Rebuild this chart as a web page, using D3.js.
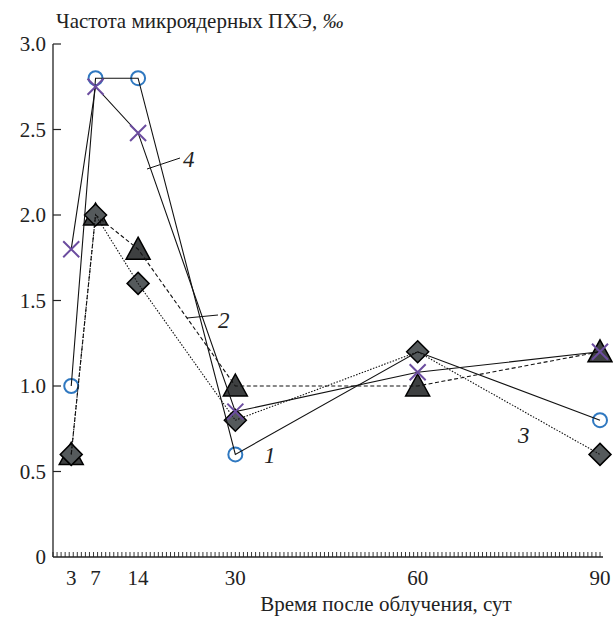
<!DOCTYPE html>
<html><head><meta charset="utf-8">
<script src="https://cdn.jsdelivr.net/npm/d3@7"></script>
<style>
body{margin:0;background:#fff}
text, tspan { font-family: "Liberation Serif", Tinos, "Times New Roman", serif !important; }
</style>
</head><body>
<script>
const days = [3, 7, 14, 30, 60, 90];
const series1 = [1.0, 2.8, 2.8, 0.6, 1.2, 0.8];    // circles, solid
const series2 = [0.6, 2.0, 1.8, 1.0, 1.0, 1.2];    // triangles, dashed
const series3 = [0.6, 2.0, 1.6, 0.8, 1.2, 0.6];    // diamonds, dotted
const series4 = [1.8, 2.75, 2.48, 0.85, 1.08, 1.2]; // crosses, solid
const yTicks = [0, 0.5, 1.0, 1.5, 2.0, 2.5, 3.0];
const xTickLabels = [3, 7, 14, 30, 60, 90];
const title = "Частота микроядерных ПХЭ, ";
const xTitle = "Время после облучения, сут";

const FONT = '"Liberation Serif", Tinos, "Times New Roman", serif';
const W = 613, H = 617;
const svg = d3.select("body").append("svg").attr("width", W).attr("height", H)
  .style("font-family", FONT);

const x = d3.scaleLinear().domain([0, 90]).range([53, 600]);
const y = d3.scaleLinear().domain([0, 3]).range([557, 44]);

const txt = (sel) => sel.append("text").style("font-family", FONT).attr("fill", "#222");

// axes
const g = svg.append("g");
g.append("line").attr("x1", 53).attr("x2", 53).attr("y1", y(3)).attr("y2", y(0)).attr("stroke", "#222").attr("stroke-width", 1.3);
g.append("line").attr("x1", 53).attr("x2", 603).attr("y1", y(0)).attr("y2", y(0)).attr("stroke", "#222").attr("stroke-width", 1.3);

yTicks.forEach(t => {
  if (t > 0) g.append("line").attr("x1", 53).attr("x2", 61).attr("y1", y(t)).attr("y2", y(t)).attr("stroke", "#222").attr("stroke-width", 1.2);
  txt(g).attr("x", 46).attr("y", y(t) + 7).attr("text-anchor", "end")
    .style("font-size", "21px").text(t === 0 ? "0" : t.toFixed(1));
});

// minor ticks on x axis
const minor = d3.range(0, 90.001, 2 / 3);
g.selectAll(".mt").data(minor).enter().append("line")
  .attr("x1", d => x(d)).attr("x2", d => x(d))
  .attr("y1", y(0)).attr("y2", y(0) - 5)
  .attr("stroke", "#222").attr("stroke-width", 0.9);

xTickLabels.forEach(t => {
  txt(g).attr("x", x(t)).attr("y", 585).attr("text-anchor", "middle")
    .style("font-size", "21px").text(t);
});

txt(svg).attr("x", 386).attr("y", 611).attr("text-anchor", "middle")
  .style("font-size", "21px").text(xTitle);

const tt = txt(svg).attr("x", 56).attr("y", 28).style("font-size", "21px");
tt.append("tspan").text(title);
tt.append("tspan").style("font-style", "italic").text("‰");

const pts = arr => arr.map((v, i) => [x(days[i]), y(v)]);

// circles
svg.selectAll(".c").data(pts(series1)).enter().append("circle")
  .attr("cx", d => d[0]).attr("cy", d => d[1]).attr("r", 7)
  .attr("fill", "#fff").attr("stroke", "#2f78c0").attr("stroke-width", 2);

// triangles
svg.selectAll(".t").data(pts(series2)).enter().append("path")
  .attr("d", "M0,-12L12,10L-12,10Z")
  .attr("transform", d => `translate(${d[0]},${d[1]})`)
  .attr("fill", "#3e4041").attr("stroke", "#000").attr("stroke-width", 1.5);

// diamonds
svg.selectAll(".d").data(pts(series3)).enter().append("path")
  .attr("d", "M0,-11L11,0L0,11L-11,0Z")
  .attr("transform", d => `translate(${d[0]},${d[1]})`)
  .attr("fill", "#555a5c").attr("stroke", "#000").attr("stroke-width", 1.5);

// lines
const line = d3.line();
svg.append("path").attr("d", line(pts(series1))).attr("fill", "none").attr("stroke", "#111").attr("stroke-width", 1.1);
svg.append("path").attr("d", line(pts(series4))).attr("fill", "none").attr("stroke", "#111").attr("stroke-width", 1.1);
svg.append("path").attr("d", line(pts(series2))).attr("fill", "none").attr("stroke", "#111").attr("stroke-width", 1.1).attr("stroke-dasharray", "4,2.5");
svg.append("path").attr("d", line(pts(series3))).attr("fill", "none").attr("stroke", "#111").attr("stroke-width", 1.1).attr("stroke-dasharray", "1.5,1.5");

// crosses
svg.selectAll(".x").data(pts(series4)).enter().append("path")
  .attr("d", "M-8,-8L8,8M-8,8L8,-8")
  .attr("transform", d => `translate(${d[0]},${d[1]})`)
  .attr("fill", "none").attr("stroke", "#6b4c9f").attr("stroke-width", 2);

// series labels
const lab = (t, lx, ly) => txt(svg).attr("x", lx).attr("y", ly).style("font-size", "23px")
  .style("font-style", "italic").text(t);
lab("1", 264, 463);
lab("2", 218, 328);
lab("3", 518, 443);
lab("4", 183, 167);
svg.append("line").attr("x1", 147).attr("y1", 169).attr("x2", 180).attr("y2", 158).attr("stroke", "#111").attr("stroke-width", 1);
svg.append("line").attr("x1", 187).attr("y1", 318).attr("x2", 218).attr("y2", 315).attr("stroke", "#111").attr("stroke-width", 1);
</script>
</body></html>
